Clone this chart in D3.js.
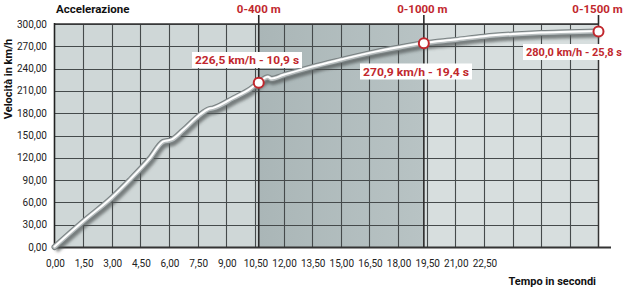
<!DOCTYPE html>
<html>
<head>
<meta charset="utf-8">
<script src="https://cdn.jsdelivr.net/npm/d3@7"></script>
<style>
  body { margin: 0; background: #fff; }
  svg { display: block; font-family: Roboto, "Open Sans", sans-serif; }
</style>
</head>
<body>
<script>
// curve (time on the drawn axis, km/h)
var times  = [0, 1.5, 3, 3.95, 5, 5.7, 6.14, 6.75, 7.62, 8.06, 8.32, 9.37, 10.24, 10.7, 11.18, 11.34, 12, 13.5, 15, 16.5, 18, 19.35, 21, 22.5, 24, 25.5, 27, 28.5];
var speeds = [0, 34, 66, 90, 119, 141.5, 144, 157, 177.5, 185, 186.5, 200, 212, 221, 228.5, 226, 231, 242, 251.5, 260.5, 268, 274, 278.5, 283, 286, 288, 289, 290];

var xTicks = [0, 1.5, 3, 4.5, 6, 7.5, 9, 10.5, 12, 13.5, 15, 16.5, 18, 19.5, 21, 22.5];
var xGrid  = [1.5, 3, 4.5, 6, 7.5, 9, 10.5, 12, 13.5, 15, 16.5, 18, 19.5, 21, 22.5, 24, 25.5, 27];
var yTicks = [0, 30, 60, 90, 120, 150, 180, 210, 240, 270, 300];

var markNames  = ["0-400 m", "0-1000 m", "0-1500 m"];
var markTimes  = [10.7, 19.35, 28.5];
var markSpeeds = [221, 274, 290];
var markLabels = ["226,5 km/h - 10,9 s", "270,9 km/h - 19,4 s", "280,0 km/h - 25,8 s"];

var W = 630, H = 290;
var svg = d3.select("body").append("svg").attr("width", W).attr("height", H);

var x = d3.scaleLinear().domain([0, 28.5]).range([54.5, 598.5]);
var y = d3.scaleLinear().domain([0, 300]).range([247, 24]);
var red = "#c1272d";
var comma = function(v) { return d3.format(".2f")(v).replace(".", ","); };

var defs = svg.append("defs");
var gm = defs.append("linearGradient").attr("id", "mid");
gm.append("stop").attr("offset", "0%").attr("stop-color", "#aab6b7");
gm.append("stop").attr("offset", "100%").attr("stop-color", "#b8c3c4");
var blur = defs.append("filter").attr("id", "shadow").attr("x", "-5%").attr("y", "-5%").attr("width", "110%").attr("height", "120%");
blur.append("feGaussianBlur").attr("stdDeviation", 1.8);

// background bands
var bands = [[0, markTimes[0], "#cfd7d7"], [markTimes[0], markTimes[1], "url(#mid)"], [markTimes[1], 28.5, "#d7dede"]];
svg.append("g").selectAll("rect").data(bands).enter().append("rect")
  .attr("x", function(d) { return x(d[0]); })
  .attr("width", function(d) { return x(d[1]) - x(d[0]); })
  .attr("y", y(300)).attr("height", y(0) - y(300))
  .attr("fill", function(d) { return d[2]; });

// grid
var grid = svg.append("g").attr("stroke", "#454a4b").attr("stroke-width", 1.1);
grid.selectAll(".v").data(xGrid).enter().append("line")
  .attr("x1", function(d) { return Math.round(x(d)) + 0.5; })
  .attr("x2", function(d) { return Math.round(x(d)) + 0.5; })
  .attr("y1", y(300)).attr("y2", y(0));
grid.selectAll(".h").data(yTicks.slice(1)).enter().append("line")
  .attr("x1", x(0)).attr("x2", x(28.5))
  .attr("y1", function(d) { return Math.round(y(d)) + 0.5; })
  .attr("y2", function(d) { return Math.round(y(d)) + 0.5; });

// frame
svg.append("line").attr("x1", x(0)).attr("x2", x(28.5)).attr("y1", y(300)).attr("y2", y(300))
  .attr("stroke", "#333").attr("stroke-width", 1.5);
svg.append("line").attr("x1", x(28.5)).attr("x2", x(28.5)).attr("y1", y(300)).attr("y2", y(0))
  .attr("stroke", "#333").attr("stroke-width", 1.5);
svg.append("line").attr("x1", x(0)).attr("x2", x(0)).attr("y1", y(300) - 1).attr("y2", y(0) + 1)
  .attr("stroke", "#222").attr("stroke-width", 1.6);
svg.append("line").attr("x1", x(0) - 1).attr("x2", 611).attr("y1", y(0) + 0.5).attr("y2", y(0) + 0.5)
  .attr("stroke", "#333").attr("stroke-width", 2);

// distance marker lines
svg.append("g").selectAll("line").data(markTimes.slice(0, 2)).enter().append("line")
  .attr("x1", function(d) { return x(d); }).attr("x2", function(d) { return x(d); })
  .attr("y1", 15).attr("y2", y(0))
  .attr("stroke", "#2a2a2a").attr("stroke-width", 1.6);
svg.append("line").attr("x1", x(28.5)).attr("x2", x(28.5)).attr("y1", 15).attr("y2", y(300))
  .attr("stroke", "#2a2a2a").attr("stroke-width", 1.6);

// speed curve
var pts = times.map(function(t, i) { return [t, speeds[i]]; });
var line = d3.line().x(function(d) { return x(d[0]); }).y(function(d) { return y(d[1]); })
  .curve(d3.curveMonotoneX);
svg.append("path").attr("d", line(pts)).attr("fill", "none")
  .attr("stroke", "#4f5556").attr("stroke-opacity", 0.7).attr("stroke-width", 6)
  .attr("transform", "translate(1.5,3)").attr("filter", "url(#shadow)");
svg.append("path").attr("d", line(pts)).attr("fill", "none")
  .attr("stroke", "#7a8283").attr("stroke-width", 6).attr("stroke-linecap", "round");
svg.append("path").attr("d", line(pts)).attr("fill", "none")
  .attr("stroke", "#b9bfc0").attr("stroke-width", 4).attr("stroke-linecap", "round");
svg.append("path").attr("d", line(pts)).attr("fill", "none")
  .attr("stroke", "#ffffff").attr("stroke-width", 2).attr("stroke-linecap", "round")
  .attr("transform", "translate(0,-0.5)");

// marker circles
svg.append("g").selectAll("circle").data(markTimes).enter().append("circle")
  .attr("cx", function(d) { return x(d); })
  .attr("cy", function(d, i) { return y(markSpeeds[i]); })
  .attr("r", 5).attr("fill", "#fff").attr("stroke", red).attr("stroke-width", 2);

// marker labels on white boxes
var labPos = [[247, 60], [416, 71.5], [574, 52]];
var labW = [104, 106, 96];
var lab = svg.append("g").selectAll("g").data(markLabels).enter().append("g");
lab.append("rect")
  .attr("x", function(d, i) { return labPos[i][0] - labW[i] / 2 - 3; })
  .attr("y", function(d, i) { return labPos[i][1] - 8; })
  .attr("width", function(d, i) { return labW[i] + 6; }).attr("height", 16)
  .attr("fill", "#fff");
lab.append("text")
  .attr("x", function(d, i) { return labPos[i][0]; })
  .attr("y", function(d, i) { return labPos[i][1] + 4; })
  .attr("text-anchor", "middle").attr("fill", red)
  .attr("font-size", 11.5).attr("font-weight", "bold")
  .attr("textLength", function(d, i) { return labW[i]; }).attr("lengthAdjust", "spacingAndGlyphs")
  .text(function(d) { return d; });

// distance names above the plot
var namePos = [x(markTimes[0]), x(markTimes[1]) - 1.5, 597.5];
svg.append("g").selectAll("text").data(markNames).enter().append("text")
  .attr("x", function(d, i) { return namePos[i]; }).attr("y", 13)
  .attr("text-anchor", "middle").attr("fill", red)
  .attr("font-size", 11.5).attr("font-weight", "bold")
  .text(function(d) { return d; });

// tick labels
svg.append("g").selectAll("text").data(yTicks).enter().append("text")
  .attr("x", 47).attr("y", function(d) { return y(d) + 3.5; })
  .attr("text-anchor", "end").attr("fill", "#222").attr("font-size", 10)
  .text(comma);
svg.append("g").selectAll("text").data(xTicks).enter().append("text")
  .attr("x", function(d) { return x(d) + 1; }).attr("y", 267)
  .attr("text-anchor", "middle").attr("fill", "#222").attr("font-size", 10)
  .text(comma);

// titles
svg.append("text").attr("x", 56).attr("y", 13).attr("font-size", 11.5).attr("font-weight", "bold")
  .attr("fill", "#111").text("Accelerazione");
svg.append("text").attr("transform", "translate(12,79) rotate(-90)")
  .attr("text-anchor", "middle").attr("font-size", 11).attr("font-weight", "bold")
  .attr("fill", "#111").text("Velocità in km/h");
svg.append("text").attr("x", 596).attr("y", 285).attr("text-anchor", "end")
  .attr("font-size", 11).attr("font-weight", "bold").attr("fill", "#111").text("Tempo in secondi");
</script>
</body>
</html>
